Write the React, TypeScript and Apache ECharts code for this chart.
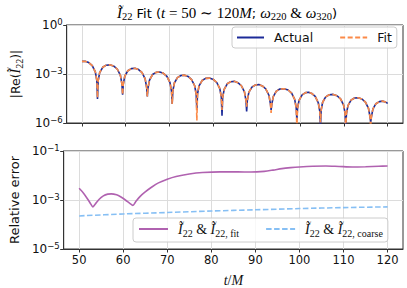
import React, { useEffect, useRef } from "react";
import * as echarts from "echarts";

// ---------- data (exponents = log10 of the plotted value) ----------
const xTicks = [50, 60, 70, 80, 90, 100, 110, 120];

const tTop = [
  50, 50.7, 51.55, 52.35, 53.05, 53.4, 53.55,
  53.7, 54.05, 54.75, 55.55, 56.4, 57.3, 58.1, 58.8, 59.15, 59.3,
  59.45, 59.8, 60.5, 61.3, 62.13, 62.96, 63.76, 64.46, 64.81, 64.96,
  65.11, 65.46, 66.16, 66.96, 67.8, 68.65, 69.45, 70.15, 70.5, 70.65,
  70.8, 71.15, 71.85, 72.65, 73.48, 74.3, 75.1, 75.8, 76.15, 76.3,
  76.45, 76.8, 77.5, 78.3, 79.18, 80.06, 80.86, 81.56, 81.91, 82.06,
  82.21, 82.56, 83.26, 84.06, 84.88, 85.7, 86.5, 87.2, 87.55, 87.7,
  87.85, 88.2, 88.9, 89.7, 90.5, 91.3, 92.1, 92.8, 93.15, 93.3,
  93.45, 93.8, 94.5, 95.3, 96.25, 97.2, 98.0, 98.7, 99.05, 99.2,
  99.35, 99.7, 100.4, 101.2, 101.9, 102.6, 103.4, 104.1, 104.45, 104.6,
  104.75, 105.1, 105.8, 106.6, 107.5, 108.4, 109.2, 109.9, 110.25, 110.4,
  110.55, 110.9, 111.6, 112.4, 113.25, 114.1, 114.9, 115.6, 115.95, 116.1,
  116.25, 116.6, 117.3, 118.1, 118.8, 119.5, 120,
];

const actualExp = [
  -2.23, -2.22, -2.3, -2.49, -2.87, -3.39, -4.53,
  -3.42, -2.92, -2.59, -2.46, -2.44, -2.52, -2.71, -3.09, -3.62, -4.27,
  -3.63, -3.13, -2.8, -2.67, -2.65, -2.73, -2.92, -3.3, -3.83, -4.37,
  -3.86, -3.37, -3.03, -2.9, -2.88, -2.96, -3.15, -3.53, -4.06, -4.84,
  -4.05, -3.55, -3.22, -3.09, -3.07, -3.15, -3.34, -3.72, -4.25, -5.2,
  -4.23, -3.73, -3.4, -3.27, -3.25, -3.33, -3.52, -3.9, -4.43, -5.55,
  -4.43, -3.94, -3.6, -3.47, -3.45, -3.53, -3.72, -4.1, -4.63, -5.29,
  -4.63, -4.13, -3.8, -3.67, -3.65, -3.73, -3.92, -4.3, -4.83, -5.2,
  -4.88, -4.38, -4.05, -3.92, -3.9, -3.98, -4.17, -4.55, -5.08, -5.8,
  -5.11, -4.61, -4.28, -4.14, -4.12, -4.19, -4.37, -4.76, -5.28, -6.3,
  -5.23, -4.73, -4.4, -4.27, -4.25, -4.33, -4.52, -4.9, -5.43, -6.3,
  -5.43, -4.93, -4.6, -4.47, -4.45, -4.53, -4.72, -5.1, -5.63, -5.95,
  -5.65, -5.15, -4.82, -4.69, -4.66, -4.72, -4.8,
];

const fitExp = [
  -2.23, -2.22, -2.3, -2.49, -2.87, -3.39, -4.45,
  -3.42, -2.92, -2.59, -2.46, -2.44, -2.52, -2.71, -3.09, -3.62, -4.27,
  -3.63, -3.13, -2.8, -2.67, -2.65, -2.73, -2.92, -3.3, -3.83, -4.37,
  -3.86, -3.37, -3.03, -2.9, -2.88, -2.96, -3.15, -3.53, -4.06, -4.84,
  -4.05, -3.55, -3.22, -3.09, -3.07, -3.15, -3.34, -3.72, -4.25, -5.84,
  -4.23, -3.73, -3.4, -3.27, -3.25, -3.33, -3.52, -3.9, -4.43, -5.2,
  -4.43, -3.94, -3.6, -3.47, -3.45, -3.53, -3.72, -4.1, -4.63, -5.0,
  -4.63, -4.13, -3.8, -3.67, -3.65, -3.73, -3.92, -4.3, -4.83, -5.38,
  -4.88, -4.38, -4.05, -3.92, -3.9, -3.98, -4.17, -4.55, -5.08, -6.3,
  -5.11, -4.61, -4.28, -4.14, -4.12, -4.19, -4.37, -4.76, -5.28, -5.96,
  -5.23, -4.73, -4.4, -4.27, -4.25, -4.33, -4.52, -4.9, -5.43, -6.3,
  -5.43, -4.93, -4.6, -4.47, -4.45, -4.53, -4.72, -5.1, -5.63, -6.3,
  -5.65, -5.15, -4.82, -4.69, -4.66, -4.72, -4.8,
];

const tFitErr = [
  50, 51, 52, 52.7, 53.1, 53.6, 54.5, 55.5, 56.5, 57.3, 58.5, 59.5, 60.5, 61.5,
  62.2, 62.8, 63.8, 65, 66.5, 68, 70, 72, 75, 78, 82, 86, 89, 92, 94, 96, 98,
  100, 103, 106, 109, 112, 115, 118, 120,
];
const fitErrExp = [
  -2.52, -2.72, -2.98, -3.18, -3.28, -3.18, -2.98, -2.83, -2.76, -2.75, -2.79,
  -2.88, -3.0, -3.14, -3.22, -3.08, -2.86, -2.67, -2.47, -2.3, -2.15, -2.04,
  -1.94, -1.88, -1.85, -1.85, -1.86, -1.83, -1.78, -1.72, -1.68, -1.65, -1.62,
  -1.61, -1.63, -1.65, -1.64, -1.62, -1.61,
];

const tCoarse = [50, 60, 70, 80, 90, 100, 110, 120];
const coarseErrExp = [-3.65, -3.57, -3.51, -3.45, -3.4, -3.35, -3.31, -3.28];

const seriesNames = ["Actual", "Fit", "Ĩ22 & Ĩ22, fit", "Ĩ22 & Ĩ22, coarse"];

// ---------- styles ----------
const SANS = "DejaVu Sans";
const SERIF = "Liberation Serif";
const INK = "#111";

const titleRich = {
  m: { fontFamily: SERIF, fontStyle: "italic", fontSize: 15, lineHeight: 18, color: INK },
  r: { fontFamily: SERIF, fontSize: 15, lineHeight: 18, color: INK },
  n: { fontFamily: SANS, fontSize: 13, lineHeight: 18, color: INK },
  s: { fontFamily: SERIF, fontSize: 10.5, lineHeight: 9, verticalAlign: "bottom", color: INK },
};

const legendRich = {
  m: { fontFamily: SERIF, fontStyle: "italic", fontSize: 14, lineHeight: 18, color: INK },
  r: { fontFamily: SERIF, fontSize: 14, lineHeight: 18, color: INK },
  s: { fontFamily: SERIF, fontSize: 10, lineHeight: 9, verticalAlign: "bottom", color: INK },
  n: { fontFamily: SANS, fontSize: 12.5, lineHeight: 18, color: INK },
};

const legendText: Record<string, string> = {
  Actual: "{n|Actual}",
  Fit: "{n|Fit}",
  [seriesNames[2]]: "{m|Ĩ}{s|22}{r| & }{m|Ĩ}{s|22, fit}",
  [seriesNames[3]]: "{m|Ĩ}{s|22}{r| & }{m|Ĩ}{s|22, coarse}",
};

const tickRich = {
  b: { fontFamily: SANS, fontSize: 12, lineHeight: 16, color: INK },
  s: { fontFamily: SANS, fontSize: 8.5, lineHeight: 10, verticalAlign: "top", color: INK },
};
const powLabel = (v: number) => {
  const e = Math.round(v);
  return `{b|10}{s|${e < 0 ? "−" + -e : e}}`;
};

const GRID_LINE = "#dcdcdc";
const FRAME = "#333";

const legendBase = {
  itemHeight: 10,
  itemGap: 26,
  selectedMode: false,
  backgroundColor: "rgba(255,255,255,0.8)",
  borderColor: "#cccccc",
  borderWidth: 1,
  borderRadius: 3,
  itemStyle: { opacity: 0, borderWidth: 0 },
  formatter: (n: string) => legendText[n],
  textStyle: { rich: legendRich, padding: [0, 0, 0, 5] },
};

export default function App() {
  const ref = useRef<HTMLDivElement>(null);
  useEffect(() => {
    if (!ref.current) return;
    const chart = echarts.init(ref.current, null, { renderer: "svg" });

    const xBase = (gridIndex: number, labels: boolean) => ({
      type: "value",
      gridIndex,
      min: 46.5,
      max: 123.5,
      axisLine: { show: true, onZero: false, lineStyle: { color: FRAME, width: 1 } },
      axisTick: { show: true, customValues: xTicks, length: 3.5, lineStyle: { color: FRAME } },
      axisLabel: {
        show: labels,
        customValues: xTicks,
        fontFamily: SANS,
        fontSize: 11.5,
        color: INK,
        margin: 5,
      },
      splitLine: { show: true, lineStyle: { color: GRID_LINE, width: 1 } },
    });

    const option: any = {
      animation: false,
      textStyle: { fontFamily: SANS },
      grid: [
        { left: 52, top: 25, width: 351, height: 98, show: true, borderColor: FRAME, borderWidth: 1 },
        { left: 52, top: 151, width: 351, height: 101, show: true, borderColor: FRAME, borderWidth: 1 },
      ],
      xAxis: [
        xBase(0, false),
        {
          ...xBase(1, true),
          name: "{m|t}{r|/}{m|M}",
          nameLocation: "middle",
          nameGap: 22,
          nameTextStyle: { rich: legendRich },
        },
      ],
      yAxis: [
        {
          type: "value",
          gridIndex: 0,
          min: -6,
          max: 0,
          interval: 3,
          axisLine: { show: true, lineStyle: { color: FRAME } },
          axisTick: { show: true, length: 3.5, lineStyle: { color: FRAME } },
          axisLabel: { formatter: powLabel, rich: tickRich, margin: 4 },
          splitLine: { show: true, lineStyle: { color: GRID_LINE } },
          name: "{n||Re(}{m|Ĩ}{s|22}{n|)|}",
          nameLocation: "middle",
          nameRotate: 90,
          nameGap: 28,
          nameTextStyle: { rich: legendRich },
        },
        {
          type: "value",
          gridIndex: 1,
          min: -5,
          max: -1,
          interval: 2,
          axisLine: { show: true, lineStyle: { color: FRAME } },
          axisTick: { show: true, length: 3.5, lineStyle: { color: FRAME } },
          axisLabel: { formatter: powLabel, rich: tickRich, margin: 4 },
          splitLine: { show: true, lineStyle: { color: GRID_LINE } },
          name: "Relative error",
          nameLocation: "middle",
          nameRotate: 90,
          nameGap: 29,
          nameTextStyle: { fontFamily: SANS, fontSize: 13, color: INK },
        },
      ],
      legend: [
        {
          ...legendBase,
          data: [seriesNames[0], seriesNames[1]],
          left: 232,
          top: 27,
          itemWidth: 27,
          padding: [4, 5, 4, 4],
        },
        {
          ...legendBase,
          data: [seriesNames[2], seriesNames[3]],
          left: 133,
          top: 218,
          itemWidth: 29,
          padding: [4, 5, 4, 5],
        },
      ],
      graphic: [
        {
          type: "text",
          x: 227,
          y: 13,
          style: {
            text:
              "{m|Ĩ}{s|22}{n| Fit (}{m|t}{r| = 50 ∼ 120}{m|M}{n|; }{m|ω}{s|220}{r| & }{m|ω}{s|320}{n|)}",
            rich: titleRich,
            textAlign: "center",
            textVerticalAlign: "middle",
            align: "center",
            verticalAlign: "middle",
          },
        },
      ],
      series: [
        {
          name: seriesNames[0],
          type: "line",
          xAxisIndex: 0,
          yAxisIndex: 0,
          data: tTop.map((t, i) => [t, actualExp[i]]),
          symbol: "none",
          clip: true,
          color: "#1c2b98",
          lineStyle: { color: "#1c2b98", width: 1.6 },
          z: 2,
        },
        {
          name: seriesNames[1],
          type: "line",
          xAxisIndex: 0,
          yAxisIndex: 0,
          data: tTop.map((t, i) => [t, fitExp[i]]),
          symbol: "none",
          clip: true,
          color: "#fb8a48",
          lineStyle: { color: "#fb8a48", width: 1.6, type: [5, 2.5] },
          z: 3,
        },
        {
          name: seriesNames[2],
          type: "line",
          xAxisIndex: 1,
          yAxisIndex: 1,
          data: tFitErr.map((t, i) => [t, fitErrExp[i]]),
          symbol: "none",
          smooth: 0.3,
          clip: true,
          color: "#b062b0",
          lineStyle: { color: "#b062b0", width: 1.6 },
        },
        {
          name: seriesNames[3],
          type: "line",
          xAxisIndex: 1,
          yAxisIndex: 1,
          data: tCoarse.map((t, i) => [t, coarseErrExp[i]]),
          symbol: "none",
          smooth: 0.3,
          clip: true,
          color: "#86bff4",
          lineStyle: { color: "#86bff4", width: 1.6, type: [5.5, 2.5] },
        },
      ],
    };
    chart.setOption(option);
    return () => chart.dispose();
  }, []);
  return <div ref={ref} style={{ width: 407, height: 288, position: "absolute", left: 0, top: 0 }} />;
}
